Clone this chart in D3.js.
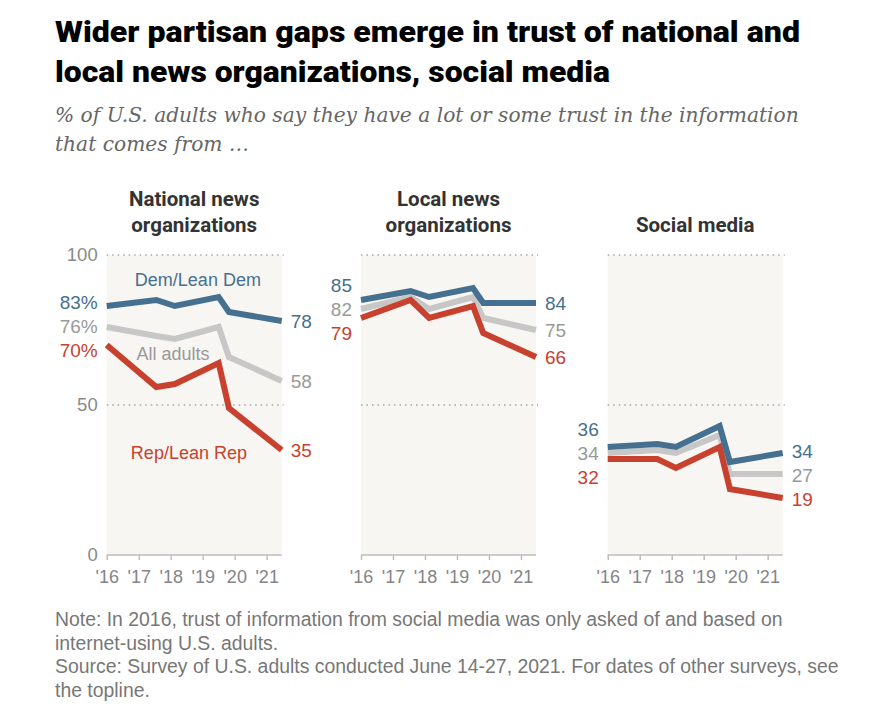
<!DOCTYPE html>
<html>
<head>
<meta charset="utf-8">
<script src="https://cdn.jsdelivr.net/npm/d3@7"></script>
<style>
  body { margin: 0; background: #fff; }
  svg { display: block; }
</style>
</head>
<body>
<svg id="chart" width="884" height="705"></svg>
<script>
// ---------- data ----------
const surveyDates = [2016.0, 2017.55, 2018.13, 2019.5, 2019.82, 2021.47];
const yearTicks = [2016, 2017, 2018, 2019, 2020, 2021];
const yearTickLabels = ["'16", "'17", "'18", "'19", "'20", "'21"];
const valueTicks = [0, 50, 100];

const panelTitles = [["National news", "organizations"], ["Local news", "organizations"], ["Social media"]];
const seriesNames = ["All adults", "Rep/Lean Rep", "Dem/Lean Dem"];

const nationalAll = [76, 73, 72, 76, 66, 58];
const nationalRep = [70, 56, 57, 64, 49, 35];
const nationalDem = [83, 85, 83, 86, 81, 78];

const localAll = [82, 86, 82, 86, 79, 75];
const localRep = [79, 85, 79, 83, 74, 66];
const localDem = [85, 88, 86, 89, 84, 84];

const socialAll = [34, 35, 34, 40, 27, 27];
const socialRep = [32, 32, 29, 36, 22, 19];
const socialDem = [36, 37, 36, 43, 31, 34];

const panels = [
  { title: panelTitles[0], series: [nationalAll, nationalRep, nationalDem], pct: true },
  { title: panelTitles[1], series: [localAll, localRep, localDem], pct: false },
  { title: panelTitles[2], series: [socialAll, socialRep, socialDem], pct: false }
];

// ---------- style ----------
const lineColors = ["#c7c7c7", "#c8412e", "#46708f"];
const textColors = ["#999999", "#c8412e", "#46708f"];
const sans = "'Liberation Sans', Arial, sans-serif";

const svg = d3.select("#chart");

// title
const title = svg.append("g").attr("font-family", "Roboto, 'Liberation Sans', sans-serif")
  .attr("font-weight", 900).attr("font-size", 29).attr("fill", "#000");
title.append("text").attr("x", 55).attr("y", 42).attr("textLength", 745).attr("lengthAdjust", "spacingAndGlyphs")
  .text("Wider partisan gaps emerge in trust of national and");
title.append("text").attr("x", 55).attr("y", 82).attr("textLength", 555).attr("lengthAdjust", "spacingAndGlyphs")
  .text("local news organizations, social media");

const sub = svg.append("g").attr("font-family", "'DejaVu Serif', Georgia, serif")
  .attr("font-style", "italic").attr("font-size", 20.2).attr("fill", "#666");
sub.append("text").attr("x", 55).attr("y", 122).text("% of U.S. adults who say they have a lot or some trust in the information");
sub.append("text").attr("x", 55).attr("y", 151).text("that comes from \u2026");

// layout
const panelLefts = [106.7, 361, 607.7];
const panelW = 175, panelTop = 255, panelH = 300;

const x = d3.scaleLinear().domain([surveyDates[0], surveyDates[surveyDates.length - 1]]).range([0, panelW]);
const y = d3.scaleLinear().domain([0, 100]).range([panelH, 0]);

function spread(items, gap) {
  items.sort((a, b) => a.y - b.y);
  for (let iter = 0; iter < 50; iter++) {
    let moved = false;
    for (let i = 1; i < items.length; i++) {
      const d = items[i].y - items[i - 1].y;
      if (d < gap - 0.01) {
        const shift = (gap - d) / 2;
        items[i].y += shift; items[i - 1].y -= shift; moved = true;
      }
    }
    if (!moved) break;
  }
  return items;
}

const line = d3.line().x((d, i) => x(surveyDates[i])).y(d => y(d)).curve(d3.curveLinear);

panels.forEach((p, pi) => {
  const g = svg.append("g").attr("transform", `translate(${panelLefts[pi]},${panelTop})`);

  g.append("rect").attr("x", 0).attr("y", 0).attr("width", panelW).attr("height", panelH).attr("fill", "#f7f6f2");

  [100, 50].forEach(v => {
    g.append("line").attr("x1", 0).attr("x2", panelW + 2).attr("y1", y(v)).attr("y2", y(v))
      .attr("stroke", "#a8a8a8").attr("stroke-width", 1.5).attr("stroke-dasharray", "1.5,4");
  });

  const ax = d3.axisBottom(x).tickValues(yearTicks).tickSize(5).tickFormat((d, i) => yearTickLabels[i]);
  const axg = g.append("g").attr("transform", `translate(0,${panelH})`).call(ax);
  axg.select(".domain").attr("stroke", "#bdbdbd").attr("stroke-width", 1.5).attr("d", `M0,0H${panelW}`);
  axg.selectAll(".tick line").attr("stroke", "#bdbdbd").attr("stroke-width", 1.5);
  axg.selectAll(".tick text").attr("fill", "#858585").attr("font-family", sans).attr("font-size", 18).attr("dy", "1.12em");

  if (pi === 0) {
    const ay = d3.axisLeft(y).tickValues(valueTicks).tickSize(0).tickPadding(9).tickFormat(d3.format("d"));
    const ayg = g.append("g").call(ay);
    ayg.select(".domain").remove();
    ayg.selectAll(".tick text").attr("fill", "#8a8a8a").attr("font-family", sans).attr("font-size", 18.5);
  }

  const tg = g.append("g").attr("font-family", "Roboto, 'Liberation Sans', sans-serif").attr("font-weight", 700)
    .attr("font-size", 20.5).attr("fill", "#333").attr("text-anchor", "middle");
  const ty = p.title.length === 2 ? [-49, -23] : [-23];
  p.title.forEach((t, i) => tg.append("text").attr("x", panelW / 2).attr("y", ty[i]).text(t));

  p.series.forEach((s, si) => {
    g.append("path").datum(s).attr("d", line).attr("fill", "none")
      .attr("stroke", lineColors[si]).attr("stroke-width", 6).attr("stroke-linejoin", "miter").attr("stroke-miterlimit", 4);
  });

  const n = surveyDates.length;
  const starts = spread(p.series.map((s, si) => ({ si, y: y(s[0]), v: s[0] })), 24);
  const ends = spread(p.series.map((s, si) => ({ si, y: y(s[n - 1]), v: s[n - 1] })), 24);
  starts.forEach(l => {
    g.append("text").attr("x", -9).attr("y", l.y).attr("dy", "0.36em").attr("text-anchor", "end")
      .attr("font-family", sans).attr("font-size", 19).attr("fill", textColors[l.si])
      .text(l.v + (p.pct ? "%" : ""));
  });
  ends.forEach(l => {
    g.append("text").attr("x", panelW + 9).attr("y", l.y).attr("dy", "0.36em").attr("text-anchor", "start")
      .attr("font-family", sans).attr("font-size", 19).attr("fill", textColors[l.si])
      .text(l.v);
  });

  if (pi === 0) {
    const namePos = [[2018.07, 67.3], [2018.57, 34.3], [2018.85, 91.7]];
    seriesNames.forEach((nm, si) => {
      g.append("text").attr("x", x(namePos[si][0])).attr("y", y(namePos[si][1])).attr("dy", "0.36em")
        .attr("text-anchor", "middle").attr("font-family", sans).attr("font-size", 18)
        .attr("fill", textColors[si]).text(nm);
    });
  }
});

const notes = [
  "Note: In 2016, trust of information from social media was only asked of and based on",
  "internet-using U.S. adults.",
  "Source: Survey of U.S. adults conducted June 14-27, 2021. For dates of other surveys, see",
  "the topline."
];
svg.append("g").attr("font-family", sans).attr("font-size", 19.4).attr("fill", "#777")
  .selectAll("text").data(notes).join("text")
  .attr("x", 55).attr("y", (d, i) => 626 + i * 23.5).text(d => d);
</script>
</body>
</html>
